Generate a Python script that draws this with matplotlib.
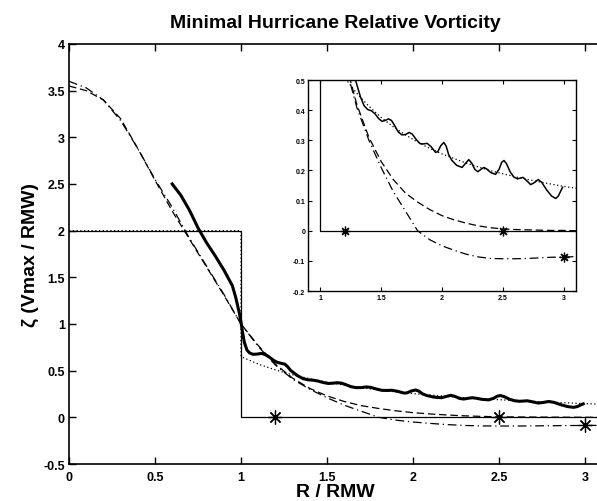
import matplotlib
matplotlib.use("Agg")
import matplotlib.pyplot as plt

plt.rcParams['font.family'] = ['Liberation Sans', 'DejaVu Sans']
plt.rcParams['font.weight'] = 'bold'

# Rankine vortex (solid step)
r_rankine = [0, 1, 1, 3.1]
z_rankine = [2, 2, 0, 0]

# modified Rankine (dotted)
r_modrank = [0, 1, 1, 1.1, 1.2, 1.3, 1.4, 1.5, 1.6, 1.7, 1.8, 1.9, 2.0,
             2.2, 2.4, 2.6, 2.8, 3.0, 3.1]
z_modrank = [2, 2, 0.65, 0.571, 0.508, 0.456, 0.413, 0.376, 0.345, 0.318,
             0.294, 0.273, 0.255, 0.224, 0.199, 0.179, 0.162, 0.147, 0.141]

# smooth profiles (dashed and dash-dot)
r_smooth = [0, 0.1, 0.2, 0.3, 0.4, 0.5, 0.6, 0.7, 0.8, 0.9, 1.0, 1.1, 1.2,
            1.3, 1.4, 1.5, 1.6, 1.7, 1.8, 1.9, 2.0, 2.1, 2.2, 2.3, 2.4, 2.5,
            2.6, 2.7, 2.8, 2.9, 3.0, 3.1]
z_dashed = [3.55, 3.50, 3.40, 3.20, 2.88, 2.54, 2.21, 1.91, 1.61, 1.31, 1.0,
            0.77, 0.57, 0.42, 0.31, 0.23, 0.17, 0.125, 0.095, 0.07, 0.05,
            0.036, 0.025, 0.016, 0.01, 0.006, 0.004, 0.003, 0.002, 0.001,
            0.001, 0.0]
z_dashdot = [3.60, 3.53, 3.40, 3.18, 2.88, 2.55, 2.25, 1.92, 1.62, 1.32, 1.0,
             0.76, 0.56, 0.41, 0.30, 0.21, 0.13, 0.065, 0.0, -0.03, -0.05,
             -0.065, -0.078, -0.087, -0.092, -0.093, -0.093, -0.092, -0.09,
             -0.088, -0.087, -0.086]

# observed composite (thick solid)
r_obs = [0.60, 0.65, 0.70, 0.75, 0.80, 0.85, 0.90, 0.95, 0.97, 0.99, 1.00,
         1.01, 1.02, 1.035, 1.05, 1.07, 1.095, 1.12, 1.14, 1.16, 1.19, 1.21,
         1.235, 1.255, 1.27, 1.29, 1.33, 1.36, 1.39, 1.42, 1.45, 1.48, 1.507,
         1.535, 1.56, 1.585, 1.61, 1.64, 1.67, 1.70, 1.73, 1.755, 1.79, 1.82,
         1.85, 1.878, 1.91, 1.947, 1.965, 1.99, 2.015, 2.035, 2.055, 2.08,
         2.12, 2.165, 2.19, 2.22, 2.245, 2.27, 2.295, 2.32, 2.345, 2.37,
         2.40, 2.44, 2.47, 2.49, 2.509, 2.53, 2.56, 2.59, 2.62, 2.645, 2.665,
         2.69, 2.728, 2.76, 2.79, 2.82, 2.86, 2.90, 2.934, 2.955, 2.975, 2.99]
z_obs = [2.50, 2.38, 2.22, 2.03, 1.87, 1.73, 1.58, 1.41, 1.28, 1.12, 1.02,
         0.90, 0.80, 0.72, 0.69, 0.675, 0.678, 0.685, 0.672, 0.652, 0.61,
         0.59, 0.578, 0.57, 0.545, 0.50, 0.445, 0.415, 0.402, 0.398, 0.388,
         0.372, 0.363, 0.366, 0.371, 0.366, 0.35, 0.328, 0.318, 0.319, 0.326,
         0.321, 0.302, 0.289, 0.288, 0.29, 0.279, 0.26, 0.262, 0.282, 0.293,
         0.28, 0.252, 0.234, 0.217, 0.21, 0.222, 0.236, 0.224, 0.203, 0.196,
         0.204, 0.21, 0.204, 0.193, 0.187, 0.205, 0.227, 0.233, 0.222, 0.195,
         0.178, 0.172, 0.175, 0.177, 0.168, 0.153, 0.16, 0.17, 0.16, 0.135,
         0.115, 0.107, 0.115, 0.132, 0.144]

# asterisks
r_star = [1.2, 2.5, 3.0]
z_star = [0.0, 0.0, -0.087]

x_ticks = [0, 0.5, 1, 1.5, 2, 2.5, 3]
x_labels = ['0', '0.5', '1', '1.5', '2', '2.5', '3']
y_ticks = [-0.5, 0, 0.5, 1, 1.5, 2, 2.5, 3, 3.5, 4]
y_labels = ['-0.5', '0', '0.5', '1', '1.5', '2', '2.5', '3', '3.5', '4']
ix_ticks = [1, 1.5, 2, 2.5, 3]
ix_labels = ['1', '1.5', '2', '2.5', '3']
iy_ticks = [-0.2, -0.1, 0, 0.1, 0.2, 0.3, 0.4, 0.5]
iy_labels = ['-0.2', '-0.1', '0', '0.1', '0.2', '0.3', '0.4', '0.5']


def draw_curves(ax, thick_lw, star_ms):
    ax.plot(r_rankine, z_rankine, color='black', lw=0.9)
    ax.plot(r_modrank, z_modrank, color='black', lw=0.9, ls=(0, (1, 2)))
    ax.plot(r_smooth, z_dashed, color='black', lw=0.9, ls=(0, (6, 3)))
    ax.plot(r_smooth, z_dashdot, color='black', lw=0.9,
            ls=(0, (7, 3, 1, 3)))
    ax.plot(r_obs, z_obs, color='black', lw=thick_lw, zorder=5,
            solid_joinstyle='round')
    ax.plot(r_star, z_star, ls='none', marker=(8, 2, 0), ms=star_ms,
            mec='black', mew=0.9, zorder=6, clip_on=False)


fig = plt.figure(figsize=(5.97, 5.02), dpi=100)
ax = fig.add_axes([0.1156, 0.0737, 0.893, 0.8367])
draw_curves(ax, 2.2, 10)
ax.set_xlim(0, 3.1)
ax.set_ylim(-0.5, 4)
ax.set_xticks(x_ticks)
ax.set_xticklabels(x_labels, fontsize=9, fontweight='bold')
ax.set_yticks(y_ticks)
ax.set_yticklabels(y_labels, fontsize=9, fontweight='bold')
ax.tick_params(direction='in', length=5, width=1, top=True, pad=3)
ax.tick_params(axis='x', pad=5)
ax.spines['right'].set_visible(False)
for s in ['left', 'top', 'bottom']:
    ax.spines[s].set_linewidth(1.2)
ax.set_title('Minimal Hurricane Relative Vorticity', fontsize=14,
             fontweight='bold', pad=12)
ax.set_xlabel('R / RMW', fontsize=14, fontweight='bold', labelpad=0)
ax.set_ylabel('ζ (Vmax / RMW)', fontsize=14, fontweight='bold', labelpad=3)

# inset
ins = fig.add_axes([0.5159, 0.4183, 0.4489, 0.4203])
draw_curves(ins, 1.1, 7)
ins.set_xlim(0.9, 3.1)
ins.set_ylim(-0.2, 0.5)
ins.set_xticks(ix_ticks)
ins.set_xticklabels(ix_labels, fontsize=5, fontweight='bold')
ins.set_yticks(iy_ticks)
ins.set_yticklabels(iy_labels, fontsize=5, fontweight='bold')
ins.tick_params(direction='in', length=3, width=0.8, top=True, right=True,
                pad=2)
for s in ins.spines.values():
    s.set_linewidth(1.0)

fig.savefig('out.png', dpi=100)
